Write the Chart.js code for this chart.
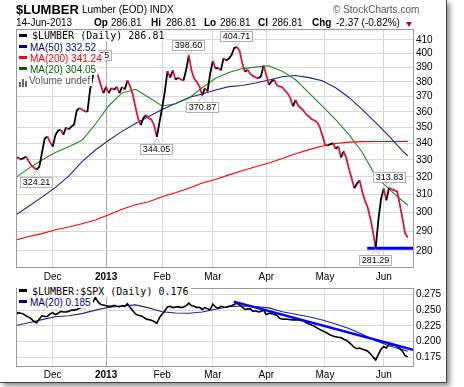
<!DOCTYPE html>
<html><head><meta charset="utf-8">
<script src="https://cdn.jsdelivr.net/npm/chart.js@4.4.1/dist/chart.umd.min.js"></script>
<style>
html,body{margin:0;padding:0;background:#fff;}
#wrap{position:relative;width:464px;height:387px;overflow:hidden;background:#fff;font-family:"Liberation Sans",Arial,sans-serif;}
#frame{position:absolute;left:0;top:0;width:446px;height:382px;background:#fff;border-right:1px solid #444;border-bottom:1px solid #444;box-shadow:3px 3px 5px rgba(0,0,0,0.45);}
canvas{position:absolute;left:0;}
.t{position:absolute;white-space:nowrap;color:#000;font-size:10px;line-height:12px;}
.b{font-weight:bold;}
.lg{position:absolute;left:17px;height:11px;line-height:11px;background:#fff;white-space:nowrap;font-size:10px;padding-right:2px;}
.mono{font-family:"DejaVu Sans Mono",monospace;}
.mk{display:inline-block;width:8px;height:3px;vertical-align:middle;margin:0 3px 0 2px;position:relative;top:-1px;}
.vb{display:inline-block;width:2px;background:#666;margin-right:1px;vertical-align:bottom;}
</style></head>
<body>
<div id="wrap">
  <div id="frame"></div>
  <canvas id="c1" width="464" height="285" style="top:0"></canvas>
  <canvas id="c2" width="464" height="107" style="top:280px"></canvas>

  <div class="t b" style="left:16px;top:2px;font-size:13px;line-height:16px;">$LUMBER</div>
  <div class="t" style="left:82px;top:4px;">Lumber (EOD) INDX</div>
  <div class="t" style="left:333px;top:4px;width:81px;text-align:right;color:#555;">© StockCharts.com</div>

  <div class="t" style="left:16px;top:17px;">14-Jun-2013</div>
  <div class="t b" style="left:94px;top:17px;">Op</div>
  <div class="t" style="left:111px;top:17px;" id="vOp"></div>
  <div class="t b" style="left:151px;top:17px;">Hi</div>
  <div class="t" style="left:166px;top:17px;" id="vHi"></div>
  <div class="t b" style="left:204px;top:17px;">Lo</div>
  <div class="t" style="left:220px;top:17px;" id="vLo"></div>
  <div class="t b" style="left:258px;top:17px;">Cl</div>
  <div class="t" style="left:272px;top:17px;" id="vCl"></div>
  <div class="t b" style="left:312px;top:17px;">Chg</div>
  <div class="t" style="left:336px;top:17px;" id="vChg"></div>
  <div style="position:absolute;left:406px;top:22px;width:0;height:0;border-left:3.5px solid transparent;border-right:3.5px solid transparent;border-top:5px solid #a0102a;"></div>

  <div class="lg mono" style="top:30px;"><span class="mk" style="background:#000;margin-right:5px"></span><span id="lgPrice"></span></div>
  <div class="lg" style="top:41.5px;color:#000080;"><span class="mk" style="background:#000080"></span><span id="lgMa50"></span></div>
  <div class="lg" style="top:52.5px;color:#ff0000;"><span class="mk" style="background:#ff0000"></span><span id="lgMa200"></span></div>
  <div class="lg" style="top:63.5px;color:#006400;"><span class="mk" style="background:#006400"></span><span id="lgMa20"></span></div>
  <div class="lg" style="top:74.5px;color:#555;"><span style="display:inline-block;width:9px;height:8px;margin:0 1px 0 2px;vertical-align:middle;position:relative;top:-1px;"><span class="vb" style="height:5px"></span><span class="vb" style="height:8px"></span><span class="vb" style="height:6px"></span></span>Volume undef</div>

  <div class="lg mono" style="top:285.5px;"><span class="mk" style="background:#000;margin-right:5px"></span><span id="lgRatio"></span></div>
  <div class="lg" style="top:296.5px;color:#000080;"><span class="mk" style="background:#000080"></span><span id="lgRatioMa"></span></div>
</div>

<script>
// ---------- DATA ----------
// trading-day index 0 = 12-Nov-2012 ... 147 = 14-Jun-2013
const monthIdx    = [14, 34, 55, 74, 94, 116, 138];
const monthLabels = ['Dec', '2013', 'Feb', 'Mar', 'Apr', 'May', 'Jun'];
const yearIdx = 34;

const priceTicks = [280,290,300,310,320,330,340,350,360,370,380,390,400,410];
const ratioTicks = [0.175,0.200,0.225,0.250,0.275];

// $LUMBER daily close
const close = [
 330.7,331.6,330.3,331.0,332.0,329.3,326.8,325.4,324.21,326.0,
 334.5,343.0,344.3,341.0,338.0,345.0,348.0,348.5,345.5,350.0,
 348.7,350.5,351.8,360.8,362.5,361.5,360.5,360.0,374.6,383.4,
 391.35,384.0,378.0,372.4,376.7,372.4,375.9,374.6,376.7,372.4,
 376.6,374.8,381.0,377.0,371.5,363.2,355.6,351.4,356.2,357.9,
 355.9,355.0,351.4,344.05,353.2,362.5,373.4,387.5,383.0,388.0,
 381.5,383.0,381.7,381.0,388.5,398.6,387.9,382.3,379.9,376.8,
 370.87,375.7,373.6,386.0,394.7,389.2,389.8,388.0,396.7,395.0,
 396.4,399.0,404.1,404.71,402.2,393.2,387.1,388.5,385.7,384.2,
 383.2,382.5,383.8,391.4,384.9,378.0,380.5,381.5,377.7,376.9,
 376.5,374.2,372.2,369.2,363.6,367.9,363.9,362.5,360.7,358.3,
 357.0,355.2,354.6,353.4,350.4,345.0,339.4,338.6,339.6,340.2,
 336.7,338.2,331.5,335.2,331.1,324.5,319.3,313.5,316.2,318.0,
 311.4,306.6,302.8,297.0,289.6,281.29,296.0,307.5,313.4,306.7,
 313.83,313.0,312.3,311.8,304.7,297.0,289.18,286.81
];

// moving averages read at these trading-day indices
const maIdx   = [0,5,10,15,20,25,30,35,40,45,50,55,60,65,70,75,80,85,90,95,100,105,110,115,120,125,130,135,140,145,147];
const ma50    = [298.5,303.5,308.5,314,320.5,329,336,342,347.5,352.5,357,361.5,365.5,369.5,371.8,374.5,376.8,377.6,379.3,381.3,383.6,384.5,383,380.8,376,369.5,361.5,353,344.5,335.5,332.52];
const ma200   = [285.5,287.3,288.8,290.8,292.3,294,296,298.8,301.8,304.3,306,308.7,311,313.5,316.5,318.5,321.2,323.6,326,328.2,330.8,333.7,336.2,338.4,340,340.8,341.1,341.2,341.2,341.2,341.24];
const ma20    = [319.5,325,330,334.5,338,342,352,364,372.5,375,369.5,363.8,365.3,369,376,382.5,386.5,389.3,390.3,391.3,387.5,381.5,372.5,363.8,355,345.5,334.5,320.5,313,306.5,304.05];

// $LUMBER:$SPX daily ratio
const ratio = [
 0.242,0.246,0.245,0.244,0.241,0.239,0.236,0.232,0.230,0.236,
 0.241,0.240,0.240,0.244,0.246,0.243,0.245,0.248,0.247,0.247,
 0.248,0.250,0.250,0.251,0.253,0.255,0.254,0.256,0.258,0.262,
 0.270,0.263,0.259,0.258,0.257,0.256,0.256,0.2575,0.256,0.2555,
 0.257,0.256,0.260,0.254,0.249,0.244,0.242,0.241,0.239,0.236,
 0.235,0.234,0.232,0.229,0.238,0.244,0.249,0.255,0.256,0.254,
 0.255,0.2555,0.254,0.255,0.257,0.261,0.257,0.256,0.254,0.2545,
 0.251,0.254,0.252,0.251,0.2595,0.255,0.253,0.256,0.255,0.2545,
 0.256,0.257,0.259,0.261,0.258,0.255,0.251,0.252,0.252,0.248,
 0.249,0.247,0.248,0.250,0.243,0.245,0.2445,0.243,0.2415,0.237,
 0.2355,0.236,0.2355,0.235,0.2345,0.2345,0.2345,0.2335,0.233,0.230,
 0.228,0.2265,0.2245,0.222,0.2195,0.2175,0.2155,0.213,0.2105,0.209,
 0.208,0.207,0.2065,0.204,0.2025,0.199,0.195,0.191,0.189,0.190,
 0.188,0.187,0.185,0.181,0.176,0.171,0.180,0.188,0.1925,0.190,
 0.196,0.195,0.1945,0.193,0.189,0.185,0.178,0.176
];
const ratioMa20 = [0.2255,0.230,0.235,0.2395,0.241,0.2445,0.250,0.2545,0.2565,0.2583,0.2535,0.2475,0.2455,0.245,0.247,0.2515,0.2555,0.2565,0.2555,0.2535,0.2475,0.2435,0.2395,0.2345,0.228,0.221,0.212,0.2015,0.1935,0.1875,0.185];

// annotated highs / lows (trading-day index) and whether label sits above
const markIdx = [8, 30, 53, 65, 70, 83, 135, 140];
const markUp  = [false, true, false, true, false, true, false, true];

// drawn support line and trend line (index, value)
const supportLine = [[131.8, 281.29], [149.35, 281.29]];
const trendLine   = [[81.8, 0.2635], [149.35, 0.1868]];

const prevClose = 289.18;

// ---------- TEXT ----------
const last = close[close.length-1];
const f2 = v => v.toFixed(2);
document.getElementById('vOp').textContent = f2(last);
document.getElementById('vHi').textContent = f2(last);
document.getElementById('vLo').textContent = f2(last);
document.getElementById('vCl').textContent = f2(last);
const chg = last - prevClose;
document.getElementById('vChg').textContent = chg.toFixed(2) + ' (' + (chg/prevClose*100).toFixed(2) + '%)';
document.getElementById('lgPrice').textContent = '$LUMBER (Daily) ' + f2(last);
document.getElementById('lgMa50').textContent = 'MA(50) ' + f2(ma50[ma50.length-1]);
document.getElementById('lgMa200').textContent = 'MA(200) ' + f2(ma200[ma200.length-1]);
document.getElementById('lgMa20').textContent = 'MA(20) ' + f2(ma20[ma20.length-1]);
document.getElementById('lgRatio').textContent = '$LUMBER:$SPX (Daily) ' + ratio[ratio.length-1].toFixed(3);
document.getElementById('lgRatioMa').textContent = 'MA(20) ' + ratioMa20[ratioMa20.length-1].toFixed(3);

// ---------- CHARTS ----------
const FONT = '"Liberation Sans", Arial, sans-serif';
const X_MIN = 0.25, X_MAX = 149.35;
const pts = arr => arr.map((v,i) => ({x:i, y:v}));
const ptsAt = (idx, arr) => idx.map((x,k) => ({x:x, y:arr[k]}));
const pairPts = arr => arr.map(p => ({x:p[0], y:p[1]}));

function xAxis(h, pad){
  return {
    type:'linear', min:X_MIN, max:X_MAX, bounds:'data',
    afterBuildTicks: s => { s.ticks = monthIdx.map(v => ({value:v})); },
    afterFit: s => { s.height = h; },
    ticks:{autoSkip:false, maxRotation:0, padding:pad, color:'#000',
      callback: v => monthLabels[monthIdx.indexOf(v)],
      font: c => ({family:FONT, size:10, weight:(c.tick && c.tick.value===yearIdx) ? 'bold' : 'normal'})},
    grid:{drawTicks:false, color: c => (c.tick && c.tick.value===yearIdx) ? '#a8a8a8' : '#d8d8d8', lineWidth:1},
    border:{display:false}
  };
}

const framePlugin = {
  id:'frame',
  afterDatasetsDraw(chart){
    const a = chart.chartArea, ctx = chart.ctx;
    ctx.save();
    ctx.strokeStyle = '#9a9a9a'; ctx.lineWidth = 1;
    ctx.strokeRect(Math.round(a.left)+0.5, Math.round(a.top)+0.5, Math.round(a.right-a.left)-1, Math.round(a.bottom-a.top)-1);
    ctx.restore();
  }
};

const markPlugin = {
  id:'marks',
  afterDatasetsDraw(chart){
    const ctx = chart.ctx, xs = chart.scales.x, ys = chart.scales.y;
    ctx.save();
    ctx.font = '9px ' + FONT;
    markIdx.forEach((i,k) => {
      const v = close[i];
      const px = xs.getPixelForValue(i), py = ys.getPixelForValue(v);
      const t = v.toFixed(2);
      const w = Math.round(ctx.measureText(t).width + 5), h = 10;
      const bx = Math.round(px - w/2);
      const by = markUp[k] ? Math.round(py - 6 - h) : Math.round(py + 7);
      ctx.strokeStyle = '#c4c4c4'; ctx.lineWidth = 1;
      ctx.beginPath();
      if (markUp[k]) { ctx.moveTo(px-4, by+h); ctx.lineTo(px, py-1); ctx.lineTo(px+4, by+h); }
      else { ctx.moveTo(px-4, by); ctx.lineTo(px, py+1); ctx.lineTo(px+4, by); }
      ctx.stroke();
      ctx.fillStyle = '#fff'; ctx.fillRect(bx, by, w, h);
      ctx.strokeStyle = '#b0b0b0'; ctx.strokeRect(bx+0.5, by+0.5, w-1, h);
      ctx.fillStyle = '#000'; ctx.textAlign = 'center'; ctx.textBaseline = 'middle';
      ctx.fillText(t, bx + w/2, by + h/2 + 0.5);
    });
    ctx.restore();
  }
};

const line = (data, color, width, extra) => Object.assign({
  data, borderColor:color, borderWidth:width, pointRadius:0, tension:0, fill:false
}, extra || {});

new Chart(document.getElementById('c1'), {
  type:'line',
  data:{ datasets:[
    line(pts(close), '#000', 1.8, {segment:{borderColor: c => c.p1.parsed.y < c.p0.parsed.y ? '#dc143c' : '#000'}}),
    line(pairPts(supportLine), '#0000ff', 3),
    line(ptsAt(maIdx, ma20), '#1e8c1e', 1.1),
    line(ptsAt(maIdx, ma50), '#20209a', 1.1),
    line(ptsAt(maIdx, ma200), '#ff0000', 1.1)
  ]},
  options:{
    responsive:false, animation:false, devicePixelRatio:1,
    layout:{padding:{left:16, top:29, right:0, bottom:0}},
    plugins:{legend:{display:false}, tooltip:{enabled:false}},
    scales:{
      x: xAxis(17, 3),
      y: { type:'logarithmic', position:'right', min:271.4, max:418.2, bounds:'data',
        afterBuildTicks: s => { s.ticks = priceTicks.map(v => ({value:v})); },
        afterFit: s => { s.width = 50; },
        ticks:{padding:2, color:'#000', font:{family:FONT, size:10}, callback: v => String(v)},
        grid:{drawTicks:false, color:'#d8d8d8'}, border:{display:false} }
    }
  },
  plugins:[framePlugin, markPlugin]
});

new Chart(document.getElementById('c2'), {
  type:'line',
  data:{ datasets:[
    line(pairPts(trendLine), '#0000ff', 2.5),
    line(pts(ratio), '#000', 1.6),
    line(ptsAt(maIdx, ratioMa20), '#23239b', 1.1)
  ]},
  options:{
    responsive:false, animation:false, devicePixelRatio:1,
    layout:{padding:{left:16, top:4, right:0, bottom:0}},
    plugins:{legend:{display:false}, tooltip:{enabled:false}},
    scales:{
      x: xAxis(20, 2),
      y: { type:'linear', position:'right', min:0.160, max:0.285, bounds:'data',
        afterBuildTicks: s => { s.ticks = ratioTicks.map(v => ({value:v})); },
        afterFit: s => { s.width = 50; },
        ticks:{padding:2, color:'#000', font:{family:FONT, size:10}, callback: v => v.toFixed(3)},
        grid:{drawTicks:false, color:'#d8d8d8'}, border:{display:false} }
    }
  },
  plugins:[framePlugin]
});
</script>
</body></html>
